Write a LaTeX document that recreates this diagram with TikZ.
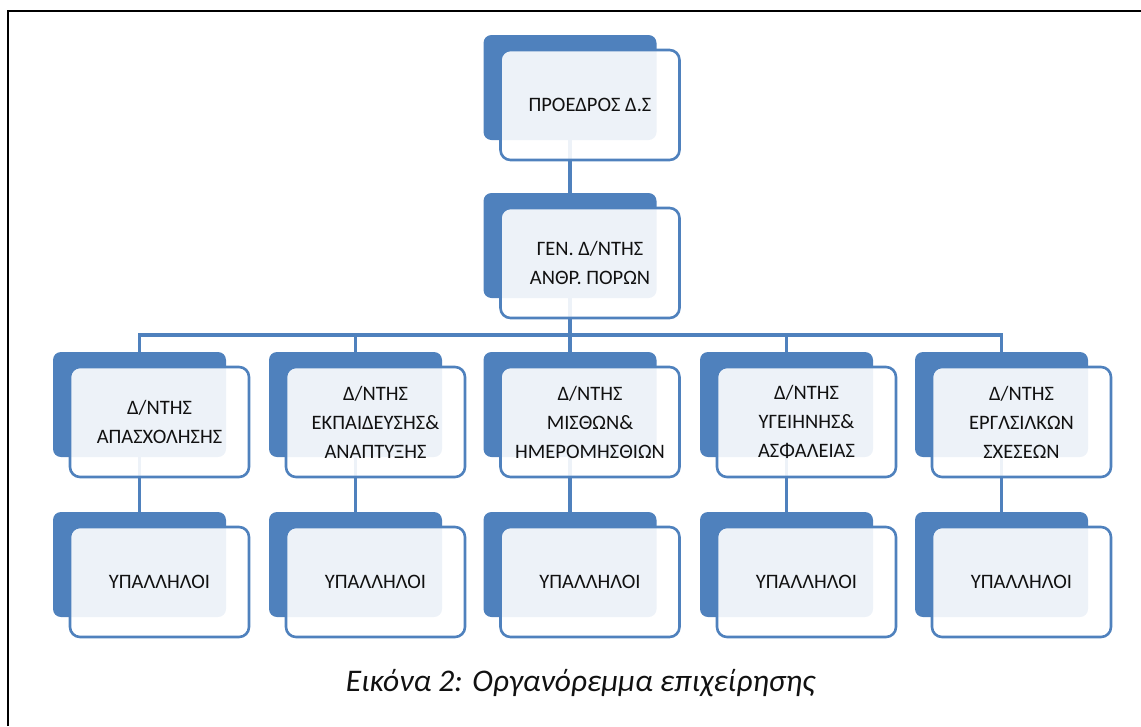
\documentclass[tikz,border=0pt]{standalone}
\usepackage{fontspec}
\setmainfont{Carlito}
\usetikzlibrary{backgrounds}
\definecolor{accent}{HTML}{4F81BD}
\definecolor{txt}{HTML}{111111}
\tikzset{
  backbox/.style={draw=none, fill=accent, rounded corners=8pt, minimum width=173pt, minimum height=105pt, inner sep=0pt},
  frontbox/.style={draw=accent, line width=2.6pt, fill=white, fill opacity=0.9, text opacity=1, rounded corners=10pt,
    minimum width=179pt, minimum height=110pt, inner sep=0pt, align=center, text=txt,
    font=\fontsize{20.5}{29}\selectfont},
  conn/.style={draw=accent, line width=3.5pt},
  frameline/.style={draw=black, line width=2pt}
}
\begin{document}
\begin{tikzpicture}[x=1pt,y=-1pt]
\useasboundingbox (0,0) rectangle (1141,726);
\draw[frameline] (8,726) -- (8,11) -- (1141,11);
% top
\node[backbox] (Pb) at (570,87.5) {};
\node[frontbox] (P) at (590,105) {ΠΡΟΕΔΡΟΣ Δ.Σ};
\node[backbox] (Gb) at (570,245.5) {};
\node[frontbox] (G) at (590,263) {ΓΕΝ. Δ/ΝΤΗΣ\\ΑΝΘΡ. ΠΟΡΩΝ};
% row 3
\node[backbox] (B1b) at (139.5,404.5) {};
\node[frontbox] (B1) at (159.5,422) {Δ/ΝΤΗΣ\\ΑΠΑΣΧΟΛΗΣΗΣ};
\node[backbox] (B2b) at (355.5,404.5) {};
\node[frontbox] (B2) at (375.5,422) {Δ/ΝΤΗΣ\\ΕΚΠΑΙΔΕΥΣΗΣ\&\\ΑΝΑΠΤΥΞΗΣ};
\node[backbox] (B3b) at (570,404.5) {};
\node[frontbox] (B3) at (590,422) {Δ/ΝΤΗΣ\\ΜΙΣΘΩΝ\&\\ΗΜΕΡΟΜΗΣΘΙΩΝ};
\node[backbox] (B4b) at (786.5,404.5) {};
\node[frontbox] (B4) at (806.5,422) {Δ/ΝΤΗΣ\\ΥΓΕΙΗΝΗΣ\&\\ΑΣΦΑΛΕΙΑΣ};
\node[backbox] (B5b) at (1001.5,404.5) {};
\node[frontbox] (B5) at (1021.5,422) {Δ/ΝΤΗΣ\\ΕΡΓΛΣΙΛΚΩΝ\\ΣΧΕΣΕΩΝ};
% row 4
\node[backbox] (C1b) at (139.5,564.5) {};
\node[frontbox] (C1) at (159.5,582) {ΥΠΑΛΛΗΛΟΙ};
\node[backbox] (C2b) at (355.5,564.5) {};
\node[frontbox] (C2) at (375.5,582) {ΥΠΑΛΛΗΛΟΙ};
\node[backbox] (C3b) at (570,564.5) {};
\node[frontbox] (C3) at (590,582) {ΥΠΑΛΛΗΛΟΙ};
\node[backbox] (C4b) at (786.5,564.5) {};
\node[frontbox] (C4) at (806.5,582) {ΥΠΑΛΛΗΛΟΙ};
\node[backbox] (C5b) at (1001.5,564.5) {};
\node[frontbox] (C5) at (1021.5,582) {ΥΠΑΛΛΗΛΟΙ};
\coordinate (bus) at (570,335);
\begin{scope}[on background layer]
\draw[conn] (Pb.center) -- (Gb.center);
\foreach \i in {1,...,5}{
  \draw[conn] (Gb.center) |- (bus -| B\i b.center) -- (B\i b.center);
  \draw[conn] (B\i b.center) -- (C\i b.center);
}
\end{scope}
\node[font=\fontsize{31.5}{36}\selectfont\itshape, text=txt] (cap) at (580.5,683) {Εικόνα 2: Οργανόρεμμα επιχείρησης};
\end{tikzpicture}
\end{document}
